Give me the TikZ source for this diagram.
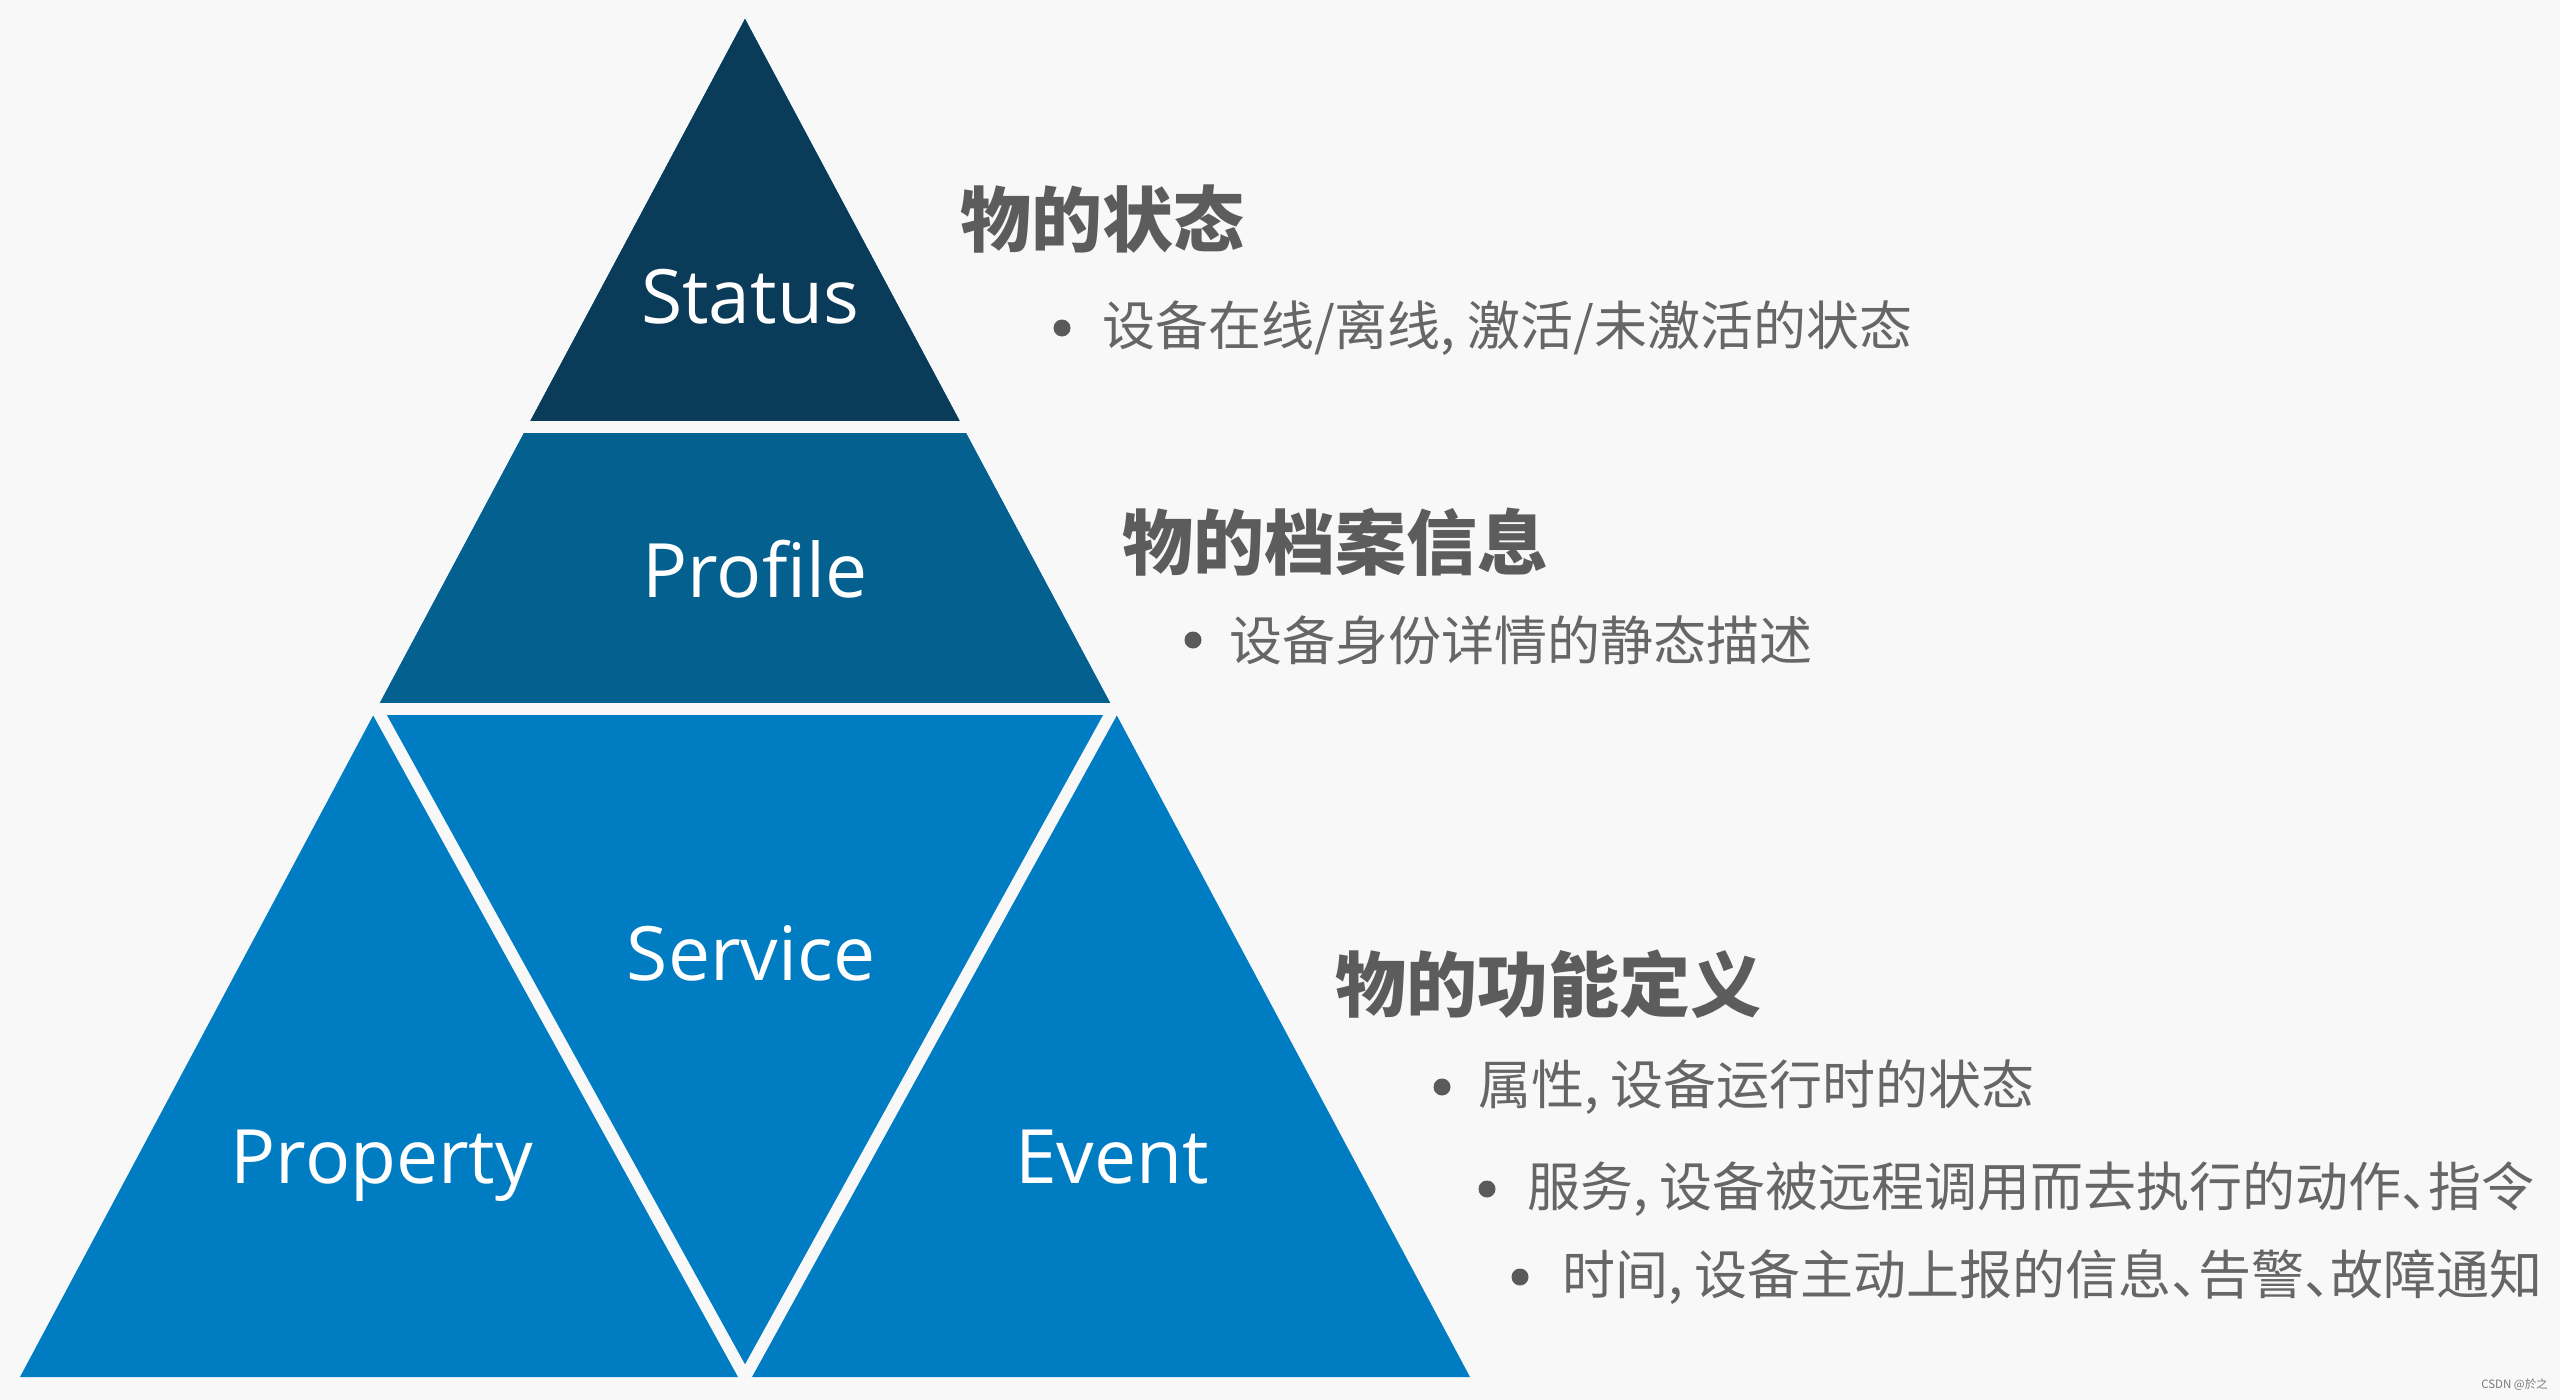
\documentclass[tikz,border=0pt]{standalone}
\usepackage{fontspec}
\setmainfont{Open Sans}[Ligatures=CommonOff]
\newfontfamily\cjk{Noto Sans CJK SC}
\definecolor{bgc}{HTML}{F8F8F8}
\definecolor{statusc}{HTML}{0A3B58}
\definecolor{profilec}{HTML}{04608E}
\definecolor{lowerc}{HTML}{007CC3}
\definecolor{headc}{HTML}{5C5C5C}
\definecolor{itemc}{HTML}{666666}
\definecolor{dotc}{HTML}{5A5A5A}
\definecolor{markc}{HTML}{7A7A7A}
\newcommand{\dunhao}{\makebox[0.5em][l]{、}}
\tikzset{
  lbltxt/.style={text=white, font=\fontsize{75}{90}\selectfont, inner sep=0pt, anchor=base},
  headtxt/.style={text=headc, font=\cjk\bfseries\fontsize{71}{80}\selectfont, inner sep=0pt, anchor=west},
  itemtxt/.style={text=itemc, font=\cjk\fontsize{53}{60}\selectfont, inner sep=0pt, anchor=west},
  bulletdot/.style={fill=dotc, circle, inner sep=0pt, minimum size=17pt},
  gapline/.style={draw=bgc, line width=12pt},
}
\begin{document}
\begin{tikzpicture}[x=1pt,y=-1pt]
\fill[bgc] (0,0) rectangle (2560,1400);
\useasboundingbox (0,0) rectangle (2560,1400);
% pyramid
\fill[lowerc] (20,1377) -- (745,19) -- (1470,1377) -- cycle;
\begin{scope}
  \clip (20,1377) -- (745,19) -- (1470,1377) -- cycle;
  \fill[profilec] (0,0) rectangle (2560,709);
  \fill[statusc] (0,0) rectangle (2560,427);
\end{scope}
\draw[gapline] (300,427) -- (1200,427);
\draw[gapline] (200,709) -- (1300,709);
\draw[gapline] (376.6,709) -- (745,1377);
\draw[gapline] (1113.4,709) -- (745,1377);
% labels
\node[lbltxt] (status) at (750,323) {Status};
\node[lbltxt] (profile) at (755,597) {Profile};
\node[lbltxt] (service) at (751,980) {Service};
\node[lbltxt] (property) at (382,1183) {Property};
\node[lbltxt] (event) at (1112,1183) {Event};
% headings
\node[headtxt] (h1) at (960,219) {物的状态};
\node[headtxt] (h2) at (1122,542) {物的档案信息};
\node[headtxt] (h3) at (1335,984) {物的功能定义};
% bullets
\node[bulletdot] (d1) at (1062,328) {};
\node[itemtxt] (t1) at (1102,328) {设备在线/离线, 激活/未激活的状态};
\node[bulletdot] (d2) at (1193,640) {};
\node[itemtxt] (t2) at (1229,640) {设备身份详情的静态描述};
\node[bulletdot] (d3) at (1442,1087) {};
\node[itemtxt] (t3) at (1478,1087) {属性, 设备运行时的状态};
\node[bulletdot] (d4) at (1487,1189) {};
\node[itemtxt] (t4) at (1527,1189) {服务, 设备被远程调用而去执行的动作\dunhao 指令};
\node[bulletdot] (d5) at (1520,1277) {};
\node[itemtxt] (t5) at (1562,1277) {时间, 设备主动上报的信息\dunhao 告警\dunhao 故障通知};
% watermark
\node[text=markc, font=\cjk\fontsize{11.5}{13}\selectfont, inner sep=0pt, anchor=east] (wm) at (2548,1385) {CSDN @於之};
\end{tikzpicture}
\end{document}
